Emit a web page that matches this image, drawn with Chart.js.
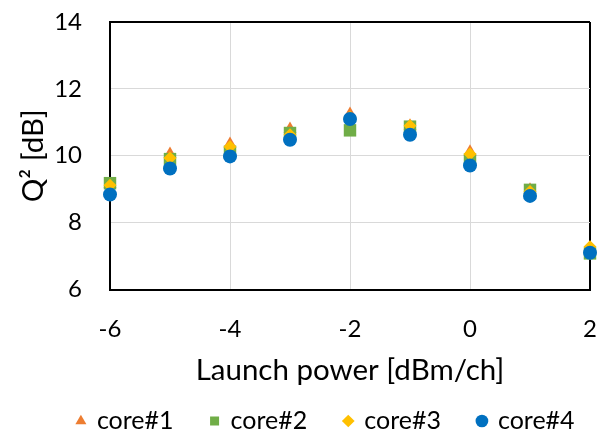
<!DOCTYPE html>
<html>
<head>
<meta charset="utf-8">
<script src="https://cdn.jsdelivr.net/npm/chart.js@4.4.1/dist/chart.umd.min.js"></script>
<style>
  html, body { margin: 0; padding: 0; background: #ffffff; }
  #wrap { width: 606px; height: 437px; }
</style>
</head>
<body>
<div id="wrap"><canvas id="c" width="606" height="437"></canvas></div>
<script>
// ---- data ----
const launchPower = [-6, -5, -4, -3, -2, -1, 0, 1, 2];
const core1 = [9.15, 10.05, 10.35, 10.80, 11.25, 10.90, 10.12, 8.98, 7.25];
const core2 = [9.18, 9.90, 10.12, 10.68, 10.76, 10.87, 9.88, 8.98, 7.08];
const core3 = [9.12, 9.93, 10.27, 10.63, 11.15, 10.90, 10.05, 8.93, 7.28];
const core4 = [8.84, 9.62, 9.98, 10.48, 11.10, 10.63, 9.71, 8.80, 7.10];
const seriesNames = ['core#1', 'core#2', 'core#3', 'core#4'];
const xTitle = 'Launch power [dBm/ch]';
const yTitle = 'Q² [dB]';

const FONT = 'Lato, "Open Sans", sans-serif';

function pts(vals) { return vals.map((v, i) => ({ x: launchPower[i], y: v })); }

const styles = [
  { color: '#ED7D31', shape: 'triangle', r: 7.5, order: 3 },
  { color: '#70AD47', shape: 'rect', r: 8.8, order: 2 },
  { color: '#FFC000', shape: 'rectRot', r: 6.5, order: 1 },
  { color: '#0070C0', shape: 'circle', r: 7, order: 0 }
];
const allSeries = [core1, core2, core3, core4];

const datasets = allSeries.map((vals, i) => ({
  label: seriesNames[i],
  data: pts(vals),
  showLine: false,
  clip: false,
  pointStyle: styles[i].shape,
  pointRadius: styles[i].r,
  pointHoverRadius: styles[i].r,
  backgroundColor: styles[i].color,
  borderColor: styles[i].color,
  pointBorderWidth: 0,
  borderWidth: 0,
  order: styles[i].order
}));

function edgeColor(ctx, lo, hi) {
  if (ctx.tick && (ctx.tick.value === lo || ctx.tick.value === hi)) return '#000000';
  return '#D9D9D9';
}
function edgeWidth(ctx, lo, hi) {
  if (ctx.tick && (ctx.tick.value === lo || ctx.tick.value === hi)) return 2;
  return 1;
}

// shift the legend row to the right, as in the original layout
const legendShift = {
  id: 'legendShift',
  afterLayout(chart) {
    const lg = chart.legend;
    if (lg) { lg.left += 23; lg.right += 23; }
  }
};

new Chart(document.getElementById('c'), {
  type: 'scatter',
  data: { datasets },
  plugins: [legendShift],
  options: {
    responsive: false,
    animation: false,
    devicePixelRatio: 1,
    layout: { padding: { left: 0, right: 0, top: 22, bottom: -6.5 } },
    plugins: {
      tooltip: { enabled: false },
      legend: {
        position: 'bottom',
        align: 'center',
        reverse: true,
        labels: {
          usePointStyle: true,
          boxWidth: 7,
          boxHeight: 9,
          padding: 37.5,
          color: '#000000',
          font: { family: FONT, size: 25 }
        }
      }
    },
    scales: {
      x: {
        type: 'linear',
        min: -6, max: 2,
        ticks: { stepSize: 2, padding: 25.5, color: '#000000', font: { family: FONT, size: 24 } },
        grid: {
          drawTicks: false,
          color: (c) => edgeColor(c, -6, 2),
          lineWidth: (c) => edgeWidth(c, -6, 2)
        },
        border: { display: true, color: '#000000', width: 2 },
        title: { display: true, text: xTitle, color: '#000000', font: { family: FONT, size: 29.5 }, padding: { top: 0, bottom: -16.7 } },
        afterFit: (s) => { s.height = 81.5; s.paddingRight = 16; s.paddingLeft = 0; }
      },
      y: {
        type: 'linear',
        min: 6, max: 14,
        ticks: { stepSize: 2, padding: 28, color: '#000000', font: { family: FONT, size: 24 } },
        grid: {
          drawTicks: false,
          color: (c) => edgeColor(c, 6, 14),
          lineWidth: (c) => edgeWidth(c, 6, 14)
        },
        border: { display: true, color: '#000000', width: 2 },
        title: { display: true, text: yTitle, color: '#000000', font: { family: FONT, size: 29.5 }, padding: { top: 15.3, bottom: 0 } },
        afterFit: (s) => { s.width = 110; s.paddingTop = 0; s.paddingBottom = 0; }
      }
    }
  }
});
</script>
</body>
</html>
